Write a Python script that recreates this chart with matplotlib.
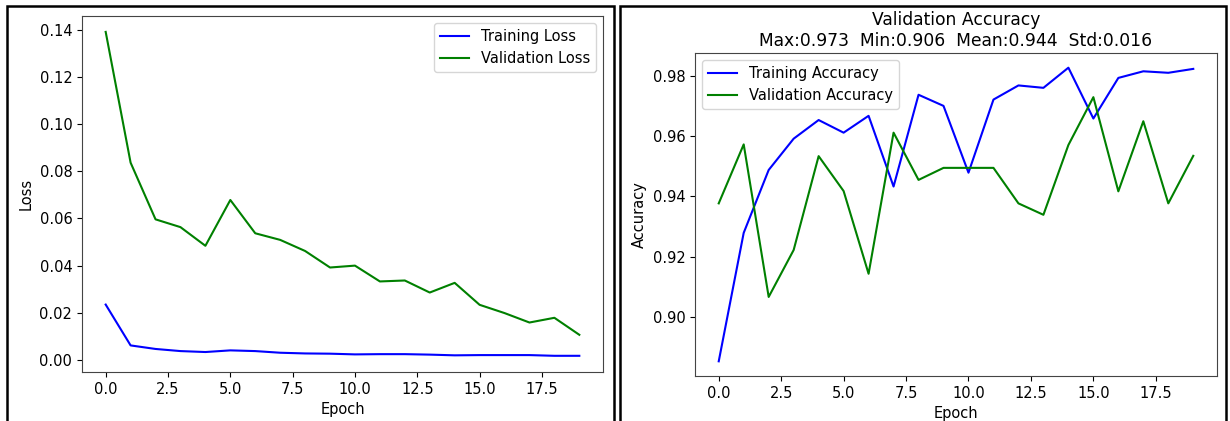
import numpy as np
import matplotlib
matplotlib.use("Agg")
import matplotlib.pyplot as plt
from matplotlib.patches import Rectangle

epochs = np.arange(20)

train_loss = [0.0235, 0.0062, 0.0047, 0.0038, 0.0034, 0.0041, 0.0038, 0.0031, 0.0028, 0.0027,
              0.0024, 0.0025, 0.0025, 0.0023, 0.0020, 0.0021, 0.0021, 0.0021, 0.0018, 0.0018]
val_loss = [0.1390, 0.0836, 0.0596, 0.0563, 0.0484, 0.0678, 0.0537, 0.0509, 0.0462, 0.0392,
            0.0400, 0.0333, 0.0337, 0.0286, 0.0327, 0.0234, 0.0199, 0.0159, 0.0179, 0.0107]

train_acc = [0.8852, 0.9279, 0.9488, 0.9592, 0.9654, 0.9612, 0.9668, 0.9433, 0.9738, 0.9701,
             0.9479, 0.9722, 0.9769, 0.9761, 0.9828, 0.9659, 0.9794, 0.9816, 0.9811, 0.9824]
val_acc = [0.9377, 0.9573, 0.9066, 0.9222, 0.9534, 0.9418, 0.9143, 0.9612, 0.9455, 0.9495,
           0.9495, 0.9495, 0.9377, 0.9339, 0.9571, 0.9730, 0.9417, 0.9650, 0.9377, 0.9535]

acc_title = "Validation Accuracy\nMax:0.973  Min:0.906  Mean:0.944  Std:0.016"

plt.rcParams["font.size"] = 10.5

W, H = 1230, 421
fig = plt.figure(figsize=(W / 100, H / 100), dpi=100)

# black frames around each panel (screenshot borders)
for x0, x1 in [(7, 614), (620, 1226)]:
    fig.patches.append(Rectangle((x0 / W, -0.05), (x1 - x0) / W, 1.05 - 6 / H,
                                 transform=fig.transFigure, fill=False,
                                 edgecolor="black", linewidth=1.8))

ax1 = fig.add_axes([82 / W, (H - 372) / H, (603 - 82) / W, (372 - 15.7) / H])
ax1.plot(epochs, train_loss, color="blue", label="Training Loss")
ax1.plot(epochs, val_loss, color="green", label="Validation Loss")
ax1.set_xlabel("Epoch")
ax1.set_ylabel("Loss")
ax1.legend(loc="upper right")

ax2 = fig.add_axes([695 / W, (H - 376) / H, (1217 - 695) / W, (376 - 53) / H])
ax2.plot(epochs, train_acc, color="blue", label="Training Accuracy")
ax2.plot(epochs, val_acc, color="green", label="Validation Accuracy")
ax2.set_xlabel("Epoch")
ax2.set_ylabel("Accuracy")
ax2.set_title(acc_title, fontsize=12.3, pad=5)
ax2.legend(loc="upper left")

for ax in (ax1, ax2):
    for s in ax.spines.values():
        s.set_color("#444444")

fig.savefig("out.png", dpi=100)
